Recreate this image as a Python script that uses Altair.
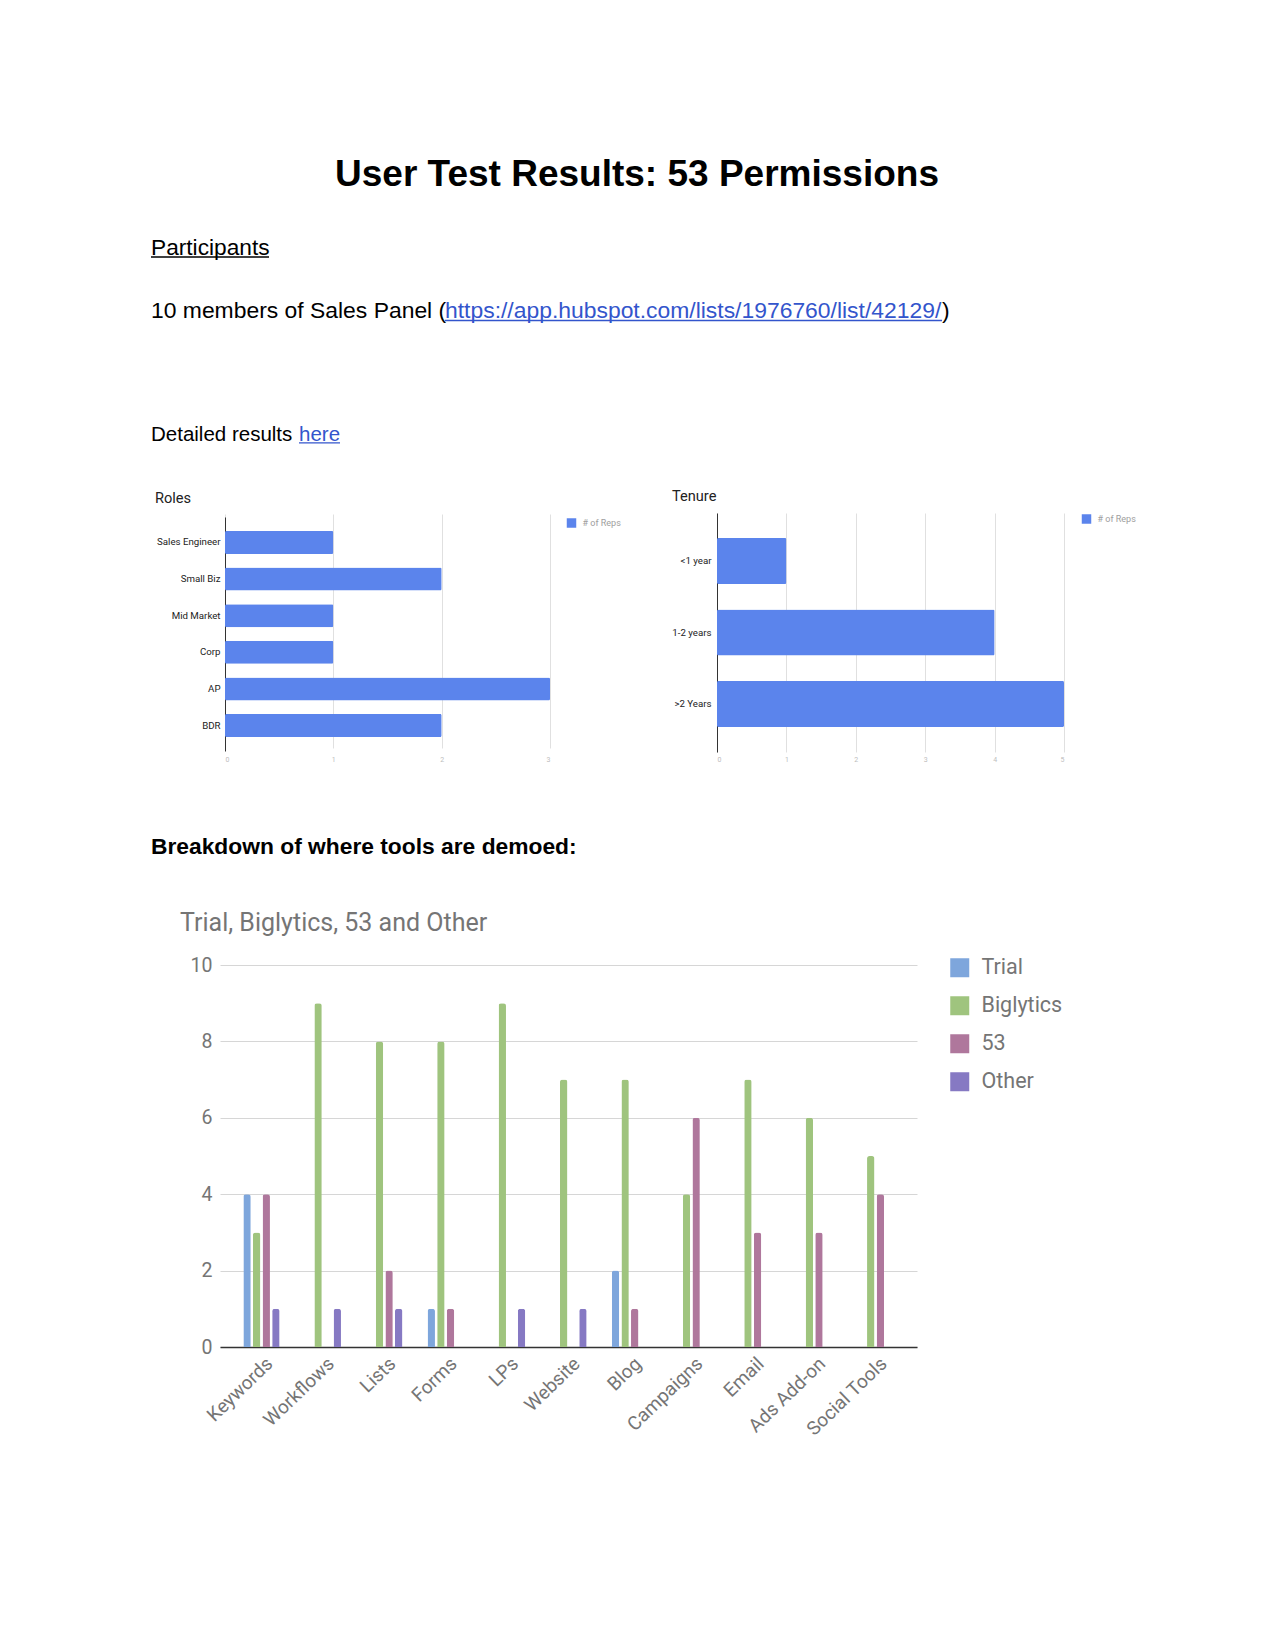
import altair as alt
import pandas as pd

# ---------------- data ----------------
roles = ["Sales Engineer", "Small Biz", "Mid Market", "Corp", "AP", "BDR"]
role_reps = [1, 2, 1, 1, 3, 2]
tenure = ["<1 year", "1-2 years", ">2 Years"]
tenure_reps = [1, 4, 5]
rep_label = "# of Reps"
role_ticks = [0, 1, 2, 3]
tenure_ticks = [0, 1, 2, 3, 4, 5]

tools = ["Keywords", "Workflows", "Lists", "Forms", "LPs", "Website", "Blog",
         "Campaigns", "Email", "Ads Add-on", "Social Tools"]
trial = [4, 0, 0, 1, 0, 0, 2, 0, 0, 0, 0]
biglytics = [3, 9, 8, 8, 9, 7, 7, 4, 7, 6, 5]
fifty_three = [4, 0, 2, 1, 0, 0, 1, 6, 3, 3, 4]
other = [1, 1, 1, 0, 1, 1, 0, 0, 0, 0, 0]
series_names = ["Trial", "Biglytics", "53", "Other"]
series_colors = ["#7ea6dc", "#9fc47e", "#af779c", "#8679c3"]
count_ticks = [0, 2, 4, 6, 8, 10]

doc_title = "User Test Results: 53 Permissions"
link_url = "https://app.hubspot.com/lists/1976760/list/42129/"

BLUE = "#5b84ec"
LINK = "#3355cc"
DOC_FONT = "Liberation Sans"
CH_FONT = "Roboto"

one = pd.DataFrame({"k": [0]})


def txt(s, x, y, size, font=DOC_FONT, weight="normal", color="#000000", align="left"):
    return alt.Chart(one).mark_text(
        text=s, font=font, fontSize=size, fontWeight=weight, color=color,
        align=align, baseline="alphabetic"
    ).encode(x=alt.value(x), y=alt.value(y))


def uline(x1, x2, y, color="#000000", w=1.4):
    return alt.Chart(one).mark_rule(color=color, strokeWidth=w).encode(
        x=alt.value(x1), x2=alt.value(x2), y=alt.value(y))


# ---------------- row 1 : document header ----------------
anchor = alt.Chart(one).mark_rect(color="white").encode(
    x=alt.value(-212), x2=alt.value(0), y=alt.value(0), y2=alt.value(2))

header = alt.layer(
    anchor,
    txt(doc_title, 417, 178, 37, weight="bold", align="center"),
    txt("Participants", -69, 247, 22.7),
    uline(-69, 49, 249),
    txt("10 members of Sales Panel (", -69, 310.3, 22.9),
    txt(link_url, 225, 310.3, 22.9, color=LINK),
    uline(225, 722, 312.5, LINK, 1.3),
    txt(")", 722, 310.3, 22.9),
    txt("Detailed results ", -69, 432.7, 20.5),
    txt("here", 79, 432.7, 20.5, color=LINK),
    uline(79, 120, 434.8, LINK, 1.3),
    txt("Roles", -65, 495.3, 14.6, font=CH_FONT, color="#222222"),
    txt("Tenure", 452, 492.7, 14.6, font=CH_FONT, color="#222222"),
).properties(width=697, height=505)

# ---------------- row 2 : Roles + Tenure ----------------
roles_df = pd.DataFrame({"role": roles, "reps": role_reps, "series": rep_label})
tenure_df = pd.DataFrame({"tenure": tenure, "reps": tenure_reps, "series": rep_label})


def small_legend(x, y):
    return alt.Legend(title=None, orient="none", legendX=x, legendY=y, padding=0,
                      symbolType="square", symbolSize=90, symbolStrokeWidth=0,
                      labelFont=CH_FONT, labelFontSize=9, labelColor="#9e9e9e",
                      labelOffset=6)


def x_small(ticks):
    return alt.Axis(orient="bottom", values=ticks, grid=True, gridColor="#e0e0e0",
                    domain=False, ticks=False, labelFont=CH_FONT, labelFontSize=7,
                    labelColor="#bdbdbd", labelPadding=3, title=None, format="d")


def y_small(offset, pad):
    return alt.Axis(orient="left", offset=offset, domain=True, domainColor="#333333",
                    domainWidth=1, ticks=False, grid=False, labelPadding=pad,
                    labelFont=CH_FONT, labelFontSize=9.7, labelColor="#222222",
                    title=None)


roles_chart = alt.Chart(roles_df).mark_bar(cornerRadius=1.5).encode(
    x=alt.X("reps:Q", scale=alt.Scale(domain=[0, 3], range=[5, 330], nice=False),
            axis=x_small(role_ticks)),
    y=alt.Y("role:N", sort=roles,
            scale=alt.Scale(range=[4, 238], paddingInner=0.37, paddingOuter=0.38),
            axis=y_small(-5, 5)),
    color=alt.Color("series:N", scale=alt.Scale(range=[BLUE]),
                    legend=small_legend(346.5, 5)),
)

tenure_chart = alt.Chart(tenure_df).mark_bar(cornerRadius=1.5).encode(
    x=alt.X("reps:Q", scale=alt.Scale(domain=[0, 5], range=[497, 844], nice=False),
            axis=x_small(tenure_ticks)),
    y=alt.Y("tenure:N", sort=tenure,
            scale=alt.Scale(range=[0, 239], paddingInner=0.355, paddingOuter=0.35),
            axis=y_small(-497, 6)),
    color=alt.Color("series:N", scale=alt.Scale(range=[BLUE]),
                    legend=small_legend(861.5, 1)),
)

row2 = alt.layer(roles_chart, tenure_chart).resolve_scale(
    x="independent", y="independent", color="independent"
).resolve_axis(x="independent", y="independent").resolve_legend(
    color="independent"
).properties(width=850, height=239)

# ---------------- row 3 : section heading + chart title ----------------
row3 = alt.layer(
    txt("Breakdown of where tools are demoed:", -69, 102, 22.8, weight="bold"),
    txt("Trial, Biglytics, 53 and Other", -40, 178.7, 25, font=CH_FONT, color="#757575"),
).properties(width=697, height=213)

# ---------------- row 4 : grouped bar chart ----------------
bd_df = pd.DataFrame({
    "tool": tools * 4,
    "series": [s for s in series_names for _ in tools],
    "value": trial + biglytics + fifty_three + other,
})

bottom = alt.Chart(bd_df).transform_filter("datum.value > 0").mark_bar(
    cornerRadiusTopLeft=2.5, cornerRadiusTopRight=2.5
).encode(
    x=alt.X("tool:N", sort=tools,
            scale=alt.Scale(paddingInner=0.41, paddingOuter=0.38),
            axis=alt.Axis(title=None, labelAngle=-44, labelAlign="right",
                          labelBaseline="top", labelPadding=7, labelOffset=2,
                          labelFont=CH_FONT, labelFontSize=19, labelColor="#757575",
                          ticks=False, domainColor="#333333", domainWidth=1.5,
                          grid=False)),
    xOffset=alt.XOffset("series:N",
                        scale=alt.Scale(domain=series_names, paddingInner=0.23,
                                        paddingOuter=0)),
    y=alt.Y("value:Q", scale=alt.Scale(domain=[0, 10], nice=False),
            axis=alt.Axis(title=None, values=count_ticks, grid=True,
                          gridColor="#d6d6d6", domain=False, ticks=False,
                          labelPadding=8, labelFont=CH_FONT, labelFontSize=19.5,
                          labelColor="#757575")),
    color=alt.Color("series:N",
                    scale=alt.Scale(domain=series_names, range=series_colors),
                    legend=alt.Legend(title=None, orient="none", legendX=729,
                                      legendY=-8, padding=0, symbolType="square",
                                      symbolSize=361, symbolStrokeWidth=0,
                                      labelFont=CH_FONT, labelFontSize=21.5,
                                      labelColor="#757575", labelOffset=11,
                                      rowPadding=15)),
).properties(width=697, height=382)

chart = alt.vconcat(header, row2, row3, bottom, spacing=0, bounds="flush").resolve_scale(
    color="independent"
).resolve_legend(color="independent").properties(
    padding=0, background="white"
).configure_view(strokeWidth=0)

chart.save("out.html", embed_options={"renderer": "svg", "actions": False})
